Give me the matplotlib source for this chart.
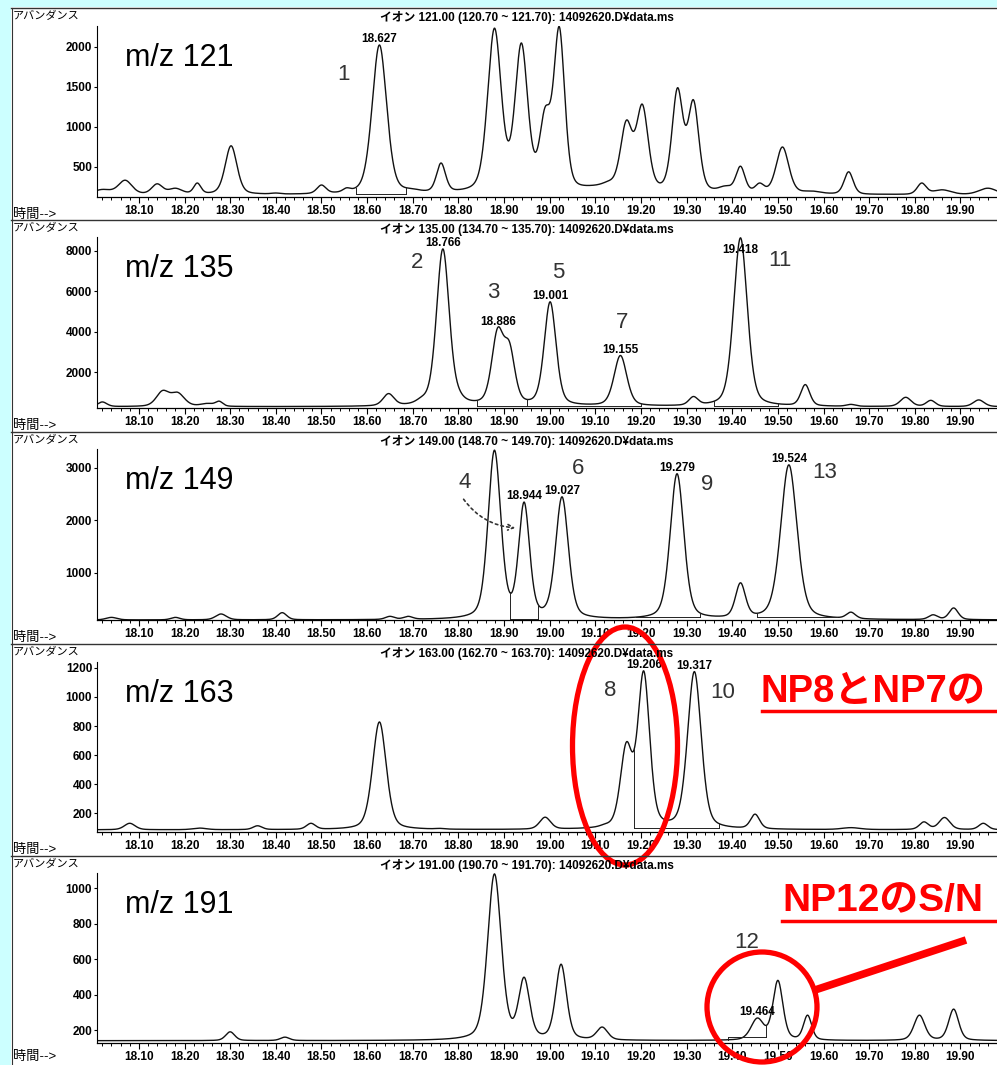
import numpy as np
import matplotlib
matplotlib.use("Agg")
import matplotlib.pyplot as plt
from matplotlib.patches import Rectangle, Ellipse

plt.rcParams['font.family'] = ['Liberation Sans', 'Noto Sans CJK JP', 'DejaVu Sans']

W, H = 997, 1065

# ion masses of the five panels
mz_list = [121, 135, 149, 163, 191]

# peak tables: retention time (min), apex abundance, width (sigma, min)
rt121 = [18.02, 18.07, 18.14, 18.18, 18.228, 18.302, 18.40, 18.50, 18.555, 18.627, 18.70, 18.762,
         18.879, 18.938, 18.99, 19.021, 19.10, 19.13, 19.168, 19.203, 19.28, 19.315, 19.385, 19.418,
         19.46, 19.51, 19.575, 19.655, 19.74, 19.815, 19.86, 19.96]
ab121 = [220, 335, 290, 235, 300, 765, 175, 275, 240, 2025, 230, 550,
         2235, 2050, 1250, 2255, 275, 330, 1085, 1285, 1490, 1340, 265, 510,
         300, 750, 200, 440, 160, 300, 215, 235]
sg121 = [0.02, 0.015, 0.012, 0.015, 0.008, 0.013, 0.01, 0.01, 0.008, 0.016, 0.015, 0.01,
         0.015, 0.014, 0.012, 0.012, 0.03, 0.015, 0.013, 0.013, 0.012, 0.012, 0.015, 0.01,
         0.01, 0.014, 0.02, 0.01, 0.02, 0.01, 0.02, 0.02]

rt135 = [18.02, 18.152, 18.185, 18.25, 18.276, 18.647, 18.72, 18.766, 18.80, 18.886, 18.912,
         19.001, 19.155, 19.315, 19.418, 19.56, 19.66, 19.78, 19.835, 19.94]
ab135 = [520, 1090, 1000, 450, 560, 935, 800, 8100, 1300, 4200, 3500,
         5480, 2820, 790, 8650, 1380, 400, 750, 600, 620]
sg135 = [0.01, 0.014, 0.015, 0.015, 0.008, 0.012, 0.012, 0.014, 0.012, 0.013, 0.012,
         0.013, 0.014, 0.01, 0.015, 0.01, 0.01, 0.012, 0.01, 0.012]

rt149 = [18.04, 18.18, 18.28, 18.414, 18.65, 18.69, 18.879, 18.944, 19.027, 19.279, 19.418,
         19.524, 19.66, 19.84, 19.885]
ab149 = [150, 150, 215, 240, 170, 170, 3340, 2350, 2450, 2890, 810,
         3060, 250, 200, 330]
sg149 = [0.012, 0.01, 0.012, 0.01, 0.01, 0.01, 0.014, 0.012, 0.014, 0.015, 0.011,
         0.018, 0.01, 0.01, 0.01]

rt163 = [18.08, 18.233, 18.36, 18.477, 18.627, 18.76, 18.99, 19.12, 19.168, 19.206, 19.317,
         19.45, 19.66, 19.82, 19.865, 19.95]
ab163 = [130, 97, 113, 130, 828, 95, 172, 125, 690, 1180, 1175,
         193, 100, 140, 170, 130]
sg163 = [0.012, 0.015, 0.01, 0.01, 0.015, 0.01, 0.012, 0.01, 0.013, 0.013, 0.015,
         0.01, 0.02, 0.01, 0.012, 0.01]

rt191 = [18.30, 18.42, 18.879, 18.944, 19.025, 19.115, 19.455, 19.50, 19.565, 19.81, 19.885]
ab191 = [190, 160, 1080, 498, 571, 217, 268, 480, 284, 284, 318]
sg191 = [0.01, 0.01, 0.015, 0.012, 0.012, 0.012, 0.014, 0.011, 0.009, 0.012, 0.011]

base_list = [150, 280, 100, 85, 140]

# labelled retention times
lab121 = [(18.627, "18.627")]
lab135 = [(18.766, "18.766"), (18.886, "18.886"), (19.001, "19.001"), (19.155, "19.155"), (19.418, "19.418")]
lab149 = [(18.944, "18.944"), (19.027, "19.027"), (19.279, "19.279"), (19.524, "19.524")]
lab163 = [(19.206, "19.206"), (19.317, "19.317")]
lab191 = [(19.455, "19.464")]

# integration baseline segments (t0, t1, level)
seg121 = [(18.575, 18.685, 165)]
seg135 = [(18.84, 18.95, 300), (18.95, 19.20, 300), (19.36, 19.50, 320)]
seg149 = [(18.912, 18.975, 110), (19.19, 19.33, 160), (19.455, 19.63, 160)]
seg163 = [(19.185, 19.37, 95)]
seg191 = [(19.39, 19.475, 160)]

# y axis ranges and ticks
ylims = [(125, 2262), (220, 8690), (100, 3362), (70, 1241), (127, 1085)]
yticks = [[500, 1000, 1500, 2000], [2000, 4000, 6000, 8000], [1000, 2000, 3000],
          [200, 400, 600, 800, 1000, 1200], [200, 400, 600, 800, 1000]]

# panel geometry in pixels: (frame top, axes top, axes bottom)
panel_px = [(8, 26, 197), (220, 237, 408), (432, 449, 620), (644, 662, 832), (856, 873, 1043)]

# handwritten peak numbers (pixel positions)
hand_labels = [("1", 343, 74), ("2", 417, 263), ("3", 493, 292), ("5", 558, 272), ("7", 622, 323),
               ("11", 780, 260), ("4", 465, 482), ("6", 578, 468), ("9", 707, 485), ("13", 825, 473),
               ("8", 610, 690), ("10", 723, 692), ("12", 747, 943)]

ETA = 0.35  # lorentzian share of the peak shape


def shape(t, rts, sig):
    d = t[:, None] - rts[None, :]
    gam = 1.1774 * sig[None, :]
    g = np.exp(-0.5 * (d / sig[None, :]) ** 2)
    lo = 1.0 / (1.0 + (d / gam) ** 2)
    return (1 - ETA) * g + ETA * lo


def trace(t, base, rts, apex, sig):
    rts = np.asarray(rts, float)
    sig = np.asarray(sig, float)
    A = shape(rts, rts, sig)
    h = np.linalg.solve(A, np.asarray(apex, float) - base)
    return base + shape(np.atleast_1d(np.asarray(t, float)), rts, sig) @ h


def draw_panel(fig, i, rts, apex, sig, labels, segs):
    ftop, top, bot = panel_px[i]
    ax = fig.add_axes([97 / W, 1 - bot / H, (W - 97) / W, (bot - top) / H], zorder=2)
    ax.set_facecolor('none')
    base = base_list[i]

    t = np.linspace(18.0, 20.0, 4000)
    y = trace(t, base, rts, apex, sig)
    ax.plot(t, y, color='#111111', lw=1.0)

    # integration marks
    for t0, t1, lev in segs:
        ax.plot([t0, t1], [lev, lev], color='#222222', lw=0.7)
        for tt in (t0, t1):
            ax.plot([tt, tt], [lev, trace(tt, base, rts, apex, sig)[0]], color='#222222', lw=0.7)

    # peak retention time labels
    for rt, txt in labels:
        yv = trace(rt, base, rts, apex, sig)[0]
        dy = -13 if yv > ylims[i][1] * 0.97 else 0
        ax.annotate(txt, (rt, yv), xytext=(0, dy), textcoords='offset points',
                    ha='center', va='bottom', fontsize=8.5, fontweight='bold')

    ax.set_xlim(18.0083, 19.974)
    ax.set_ylim(*ylims[i])
    ax.set_xticks(np.round(np.arange(18.1, 19.95, 0.1), 2))
    ax.set_xticks(np.round(np.arange(18.02, 19.98, 0.02), 2), minor=True)
    ax.xaxis.set_major_formatter(plt.FormatStrFormatter('%.2f'))
    ax.set_yticks(yticks[i])
    ax.tick_params(axis='x', which='major', direction='out', length=4, width=0.8, labelsize=8.5, pad=2)
    ax.tick_params(axis='x', which='minor', direction='out', length=2.5, width=0.7)
    ax.tick_params(axis='y', which='major', direction='out', length=2.5, width=0.8, labelsize=8.5, pad=1)
    plt.setp(ax.get_xticklabels(), fontweight='bold')
    plt.setp(ax.get_yticklabels(), fontweight='bold')
    for s in ('top', 'right'):
        ax.spines[s].set_visible(False)
    ax.spines['left'].set_linewidth(0.8)
    ax.spines['bottom'].set_linewidth(0.9)
    return ax


def main():
    fig = plt.figure(figsize=(W / 100, H / 100), dpi=100)
    fig.patch.set_facecolor('#ccffff')
    fig.patches.append(Rectangle((11 / W, 0), (W - 11) / W, (H - 7) / H, transform=fig.transFigure,
                                 facecolor='white', edgecolor='none', zorder=-1))

    tables = [(rt121, ab121, sg121, lab121, seg121), (rt135, ab135, sg135, lab135, seg135),
              (rt149, ab149, sg149, lab149, seg149), (rt163, ab163, sg163, lab163, seg163),
              (rt191, ab191, sg191, lab191, seg191)]
    for i, (rts, apex, sig, labs, segs) in enumerate(tables):
        draw_panel(fig, i, rts, apex, sig, labs, segs)

    # overlay in pixel coordinates for page texts and red marks
    ov = fig.add_axes([0, 0, 1, 1], zorder=10)
    ov.set_xlim(0, W)
    ov.set_ylim(H, 0)
    ov.axis('off')
    ov.patch.set_alpha(0)

    ov.plot([12, 12], [8, H], color='#333333', lw=0.8)
    for i, mz in enumerate(mz_list):
        ftop, top, bot = panel_px[i]
        ov.plot([11, W], [ftop, ftop], color='#333333', lw=1.0)
        ov.text(13, ftop + 8, "アバンダンス", fontsize=8, va='center', ha='left')
        ov.text(13, min(bot + 18, H - 8), "時間-->", fontsize=9.5, va='center', ha='left')
        ov.text(380, ftop + 9, f"イオン {mz:.2f} ({mz - 0.3:.2f} ~ {mz + 0.7:.2f}): 14092620.D¥data.ms",
                fontsize=8.5, fontweight='bold', va='center', ha='left')
        ov.text(125, top + 32, f"m/z {mz}", fontsize=22, va='center', ha='left')

    for txt, x, y in hand_labels:
        ov.text(x, y, txt, fontsize=16, color='#333333', ha='center', va='center', fontweight='light')

    # dotted arrow from "4" to the 18.944 peak
    ov.annotate("", xy=(518, 528), xytext=(462, 497),
                arrowprops=dict(arrowstyle='->', linestyle=(0, (1.5, 2)), color='#333333', lw=1.2,
                                connectionstyle='arc3,rad=0.25'))

    red = '#ff0000'
    ov.add_patch(Ellipse((625, 746), 105, 238, fill=False, edgecolor=red, lw=3.8))
    ov.add_patch(Ellipse((762, 1007), 110, 110, fill=False, edgecolor=red, lw=3.8))
    ov.plot([815, 966], [990, 940], color=red, lw=5.5, solid_capstyle='butt')

    ov.text(760, 692, "NP8とNP7の", fontsize=27.5, fontweight='bold', color=red, va='center', ha='left')
    ov.plot([762, W], [711, 711], color=red, lw=2.5)
    ov.text(782, 901, "NP12のS/N", fontsize=28, fontweight='bold', color=red, va='center', ha='left')
    ov.plot([782, W], [921, 921], color=red, lw=2.5)

    fig.savefig("out.png", dpi=100, facecolor=fig.get_facecolor())


if __name__ == '__main__':
    main()
